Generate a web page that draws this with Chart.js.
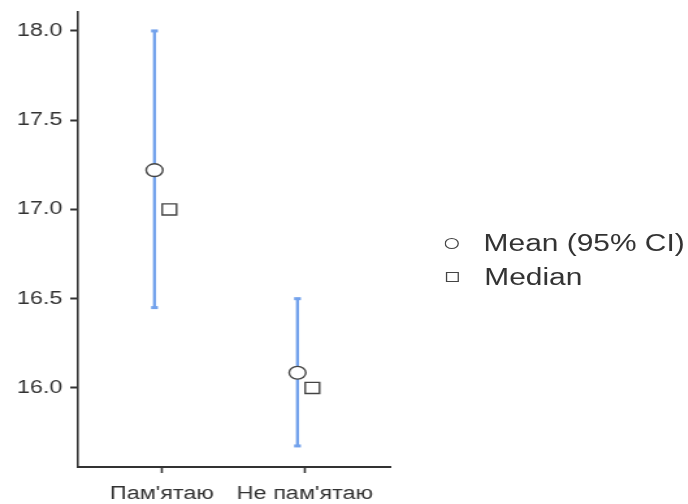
<!DOCTYPE html>
<html>
<head>
<meta charset="utf-8">
<script src="https://cdn.jsdelivr.net/npm/chart.js@4/dist/chart.umd.min.js"></script>
<style>
  body { margin: 0; background: #fff; overflow: hidden; }
  /* the reference is stretched sideways, so draw narrow and widen the whole box */
  #wrap { position: relative; width: 529px; height: 504px; transform: scaleX(1.3); transform-origin: 0 0; }
  #legend { position: absolute; left: 342px; top: 226px; font: 23px "Liberation Sans", Arial, sans-serif; color: #333; white-space: nowrap; }
  .item { display: flex; align-items: center; height: 34px; }
  .mk { width: 10px; height: 10px; border: 1.4px solid #444; margin-right: 20px; box-sizing: border-box; flex: none; }
  .mk.circle { border-radius: 50%; width: 11px; height: 11px; margin-right: 19px; }
  .mk.sq { margin-left: 0.5px; }
</style>
</head>
<body>
<div id="wrap">
  <canvas id="chart" width="529" height="504"></canvas>
  <div id="legend">
    <div class="item"><span class="mk circle"></span>Mean (95% CI)</div>
    <div class="item"><span class="mk sq"></span>Median</div>
  </div>
</div>
<script>
/* ── data ── */
const categories = ["Пам'ятаю", "Не пам'ятаю"];
const means   = [17.22, 16.085];
const ciLow   = [16.45, 15.675];
const ciHigh  = [18.0, 16.5];
const medians = [17.0, 16.0];
const yTicks  = [16.0, 16.5, 17.0, 17.5, 18.0];

const BLUE = '#73a2ec';
const INK = '#333';
const FONT = '"Liberation Sans", Arial, sans-serif';
const SHIFT = 0.052; // mean sits left of the tick, median right

const ciSets = categories.map((c, i) => ({
  type: 'scatter',
  showLine: true,
  data: [{ x: i + 1 - SHIFT, y: ciLow[i] }, { x: i + 1 - SHIFT, y: ciHigh[i] }],
  borderColor: BLUE, borderWidth: 2.4,
  pointStyle: 'line', pointRadius: 2.6, pointBorderWidth: 3, pointBorderColor: BLUE,
  order: 3
}));

new Chart(document.getElementById('chart').getContext('2d'), {
  type: 'scatter',
  data: {
    datasets: [
      {
        label: 'Mean (95% CI)',
        data: means.map((v, i) => ({ x: i + 1 - SHIFT, y: v })),
        pointStyle: 'circle', pointRadius: 6.4, pointBorderWidth: 1.4,
        pointBackgroundColor: '#fff', pointBorderColor: '#444',
        order: 0
      },
      {
        label: 'Median',
        data: medians.map((v, i) => ({ x: i + 1 + SHIFT, y: v })),
        pointStyle: 'rect', pointRadius: 7.8, pointBorderWidth: 1.4,
        pointBackgroundColor: '#fff', pointBorderColor: '#444',
        order: 1
      },
      ...ciSets
    ]
  },
  options: {
    responsive: false,
    animation: false,
    layout: { padding: { top: 12, right: 229, left: 0, bottom: 0 } },
    plugins: { legend: { display: false }, tooltip: { enabled: false } },
    scales: {
      x: {
        type: 'linear', min: 0.413, max: 2.595,
        afterBuildTicks: s => { s.ticks = categories.map((c, i) => ({ value: i + 1 })); },
        afterFit: s => { s.height = 37; s.paddingLeft = 0; s.paddingRight = 0; },
        ticks: { color: INK, font: { size: 18, family: FONT }, padding: 10, maxRotation: 0,
                 callback: v => categories[v - 1] },
        grid: { drawOnChartArea: false, drawTicks: true, tickLength: 6, tickColor: INK, tickWidth: 1.6 },
        border: { display: true, color: INK, width: 2 }
      },
      y: {
        min: 15.557, max: 18.106,
        afterBuildTicks: s => { s.ticks = yTicks.map(v => ({ value: v })); },
        afterFit: s => { s.width = 60; s.paddingTop = 0; s.paddingBottom = 0; },
        ticks: { color: INK, font: { size: 18, family: FONT }, padding: 6,
                 callback: v => Number(v).toFixed(1) },
        grid: { drawOnChartArea: false, drawTicks: true, tickLength: 6, tickColor: INK, tickWidth: 2 },
        border: { display: true, color: INK, width: 1.6 }
      }
    }
  }
});
</script>
</body>
</html>
